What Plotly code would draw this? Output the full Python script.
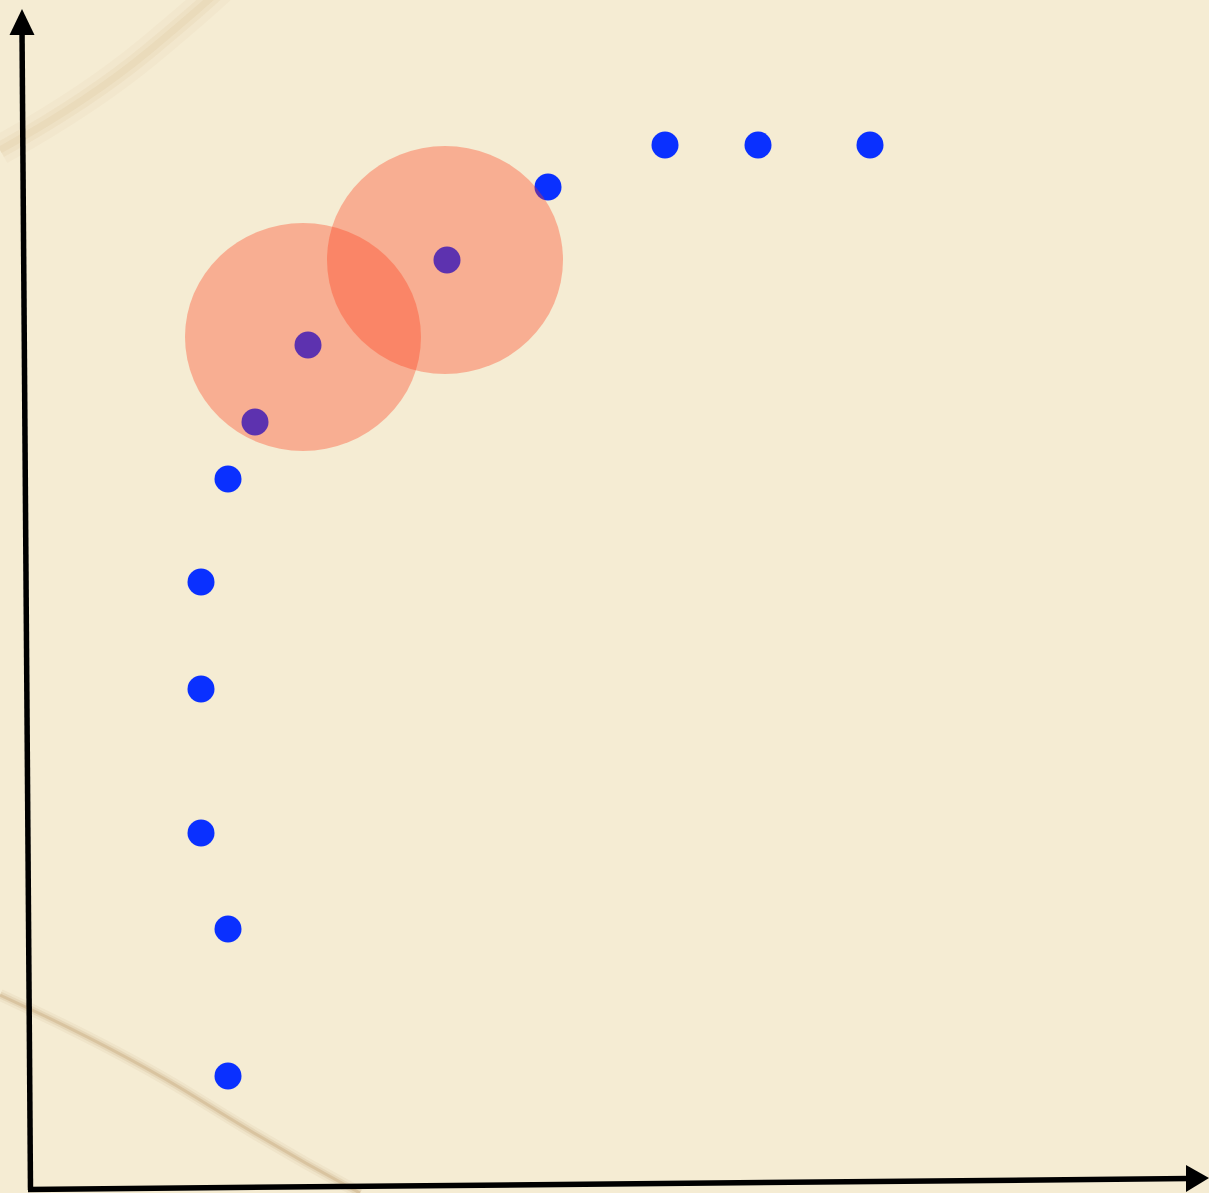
import plotly.graph_objects as go

W, H = 1209, 1193

# ---- data ----
x_vals = [19.8, 19.8, 17.1, 17.1, 17.1, 19.8, 22.5, 27.8, 41.7, 51.8, 63.5, 72.8, 84.0]
y_vals = [11.4, 26.1, 35.7, 50.1, 60.8, 71.1, 76.8, 84.5, 93.0, 100.3, 104.5, 104.5, 104.5]

circle_cx = [27.3, 41.5]
circle_cy = [85.3, 93.0]
circle_rx = [11.8, 11.8]
circle_ry = [11.4, 11.4]

fig = go.Figure()
fig.add_trace(go.Scatter(
    x=x_vals, y=y_vals, mode="markers",
    marker=dict(size=27, color="rgb(10,48,255)", line=dict(width=0)),
    hoverinfo="skip", showlegend=False,
))

shapes = []


def P(px, py):
    return f"{px / W:.5f},{1 - py / H:.5f}"


# background streaks (paper texture)
for w, a in [(12, 0.06), (7, 0.10), (3, 0.18)]:
    shapes.append(dict(type="path", xref="paper", yref="paper", layer="below",
                       path="M " + P(0, 995) + " Q " + P(120, 1050) + " " + P(200, 1100)
                            + " T " + P(360, 1193),
                       line=dict(color=f"rgba(160,110,50,{a})", width=w)))
for w, a in [(30, 0.04), (16, 0.06), (7, 0.07)]:
    shapes.append(dict(type="path", xref="paper", yref="paper", layer="below",
                       path="M " + P(0, 150) + " Q " + P(90, 100) + " " + P(150, 50)
                            + " T " + P(230, -20),
                       line=dict(color=f"rgba(180,140,70,{a})", width=w)))

# circles
for cx, cy, rx, ry in zip(circle_cx, circle_cy, circle_rx, circle_ry):
    shapes.append(dict(type="circle", xref="x", yref="y", layer="above",
                       x0=cx - rx, x1=cx + rx, y0=cy - ry, y1=cy + ry,
                       fillcolor="rgba(255,55,20,0.34)", line=dict(width=0)))

# axes with arrowheads
shapes.append(dict(type="line", xref="paper", yref="paper", layer="above",
                   x0=30.5 / W, y0=1 - 1190 / H, x1=22 / W, y1=1 - 30 / H,
                   line=dict(color="black", width=5.5)))
shapes.append(dict(type="path", xref="paper", yref="paper", layer="above",
                   path="M " + P(22, 9) + " L " + P(34.5, 35) + " L " + P(9.5, 35) + " Z",
                   fillcolor="black", line=dict(width=0)))
shapes.append(dict(type="line", xref="paper", yref="paper", layer="above",
                   x0=28 / W, y0=1 - 1189.5 / H, x1=1190 / W, y1=1 - 1178.5 / H,
                   line=dict(color="black", width=5.5)))
shapes.append(dict(type="path", xref="paper", yref="paper", layer="above",
                   path="M " + P(1209, 1178) + " L " + P(1186, 1165) + " L " + P(1186, 1192) + " Z",
                   fillcolor="black", line=dict(width=0)))

fig.update_layout(
    width=W, height=H,
    margin=dict(l=0, r=0, t=0, b=0),
    paper_bgcolor="#f5ecd3",
    plot_bgcolor="rgba(0,0,0,0)",
    xaxis=dict(range=[-3, 117.9], visible=False, fixedrange=True),
    yaxis=dict(range=[-0.3, 119], visible=False, fixedrange=True),
    shapes=shapes,
    showlegend=False,
)

fig.write_html(
    "out.html",
    config={"displayModeBar": False},
    post_script="document.body.style.margin='0';document.body.style.overflow='hidden';",
)
